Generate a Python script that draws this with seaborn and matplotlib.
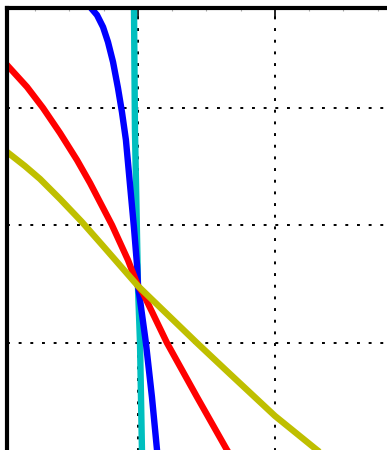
import numpy as np
import matplotlib
matplotlib.use("Agg")
from matplotlib import pyplot as plt
from matplotlib.ticker import MultipleLocator, AutoMinorLocator
import seaborn as sns

# values (x: one unit per vertical grid step, y: one unit per horizontal grid step)
red_x = [-1.00, -0.956, -0.810, -0.693, -0.569, -0.445, -0.350, -0.190, -0.073, 0.0,
         0.036, 0.212, 0.431, 0.650, 0.75]
red_y = [2.42, 2.366, 2.179, 2.000, 1.787, 1.557, 1.362, 1.004, 0.706, 0.485,
         0.426, 0.000, -0.460, -0.911, -1.07]

yel_x = [-1.00, -0.956, -0.825, -0.715, -0.569, -0.409, -0.255, 0.0, 0.431, 0.672,
         1.000, 1.307, 1.45]
yel_y = [1.66, 1.626, 1.506, 1.396, 1.226, 1.030, 0.826, 0.485, 0.000, -0.264,
         -0.621, -0.911, -1.03]

blue_x = [-0.40, -0.343, -0.299, -0.255, -0.219, -0.182, -0.146, -0.117, -0.088, -0.058,
          -0.029, -0.007, 0.0, 0.015, 0.058, 0.102, 0.139, 0.16]
blue_y = [2.92, 2.851, 2.791, 2.689, 2.562, 2.391, 2.170, 1.966, 1.728, 1.345,
          0.979, 0.664, 0.485, 0.366, 0.000, -0.460, -0.911, -1.15]

cyan_x = [-0.031, -0.029, -0.022, 0.0, 0.015, 0.029, 0.032]
cyan_y = [3.00, 2.851, 1.813, 0.485, 0.000, -0.911, -1.10]

W, H = 387, 450
sns.set_style("white")
fig = plt.figure(figsize=(W / 100, H / 100), dpi=100)

# axes anchored at the top-left; right and bottom run off the canvas
xlo, xhi = -0.956, 3.0
ylo, yhi = -2.0, 2.851
px_x, px_y = 137.0, 117.5
ax_w = (xhi - xlo) * px_x
ax_h = (yhi - ylo) * px_y
left = 7.0
top = 8.0
ax = fig.add_axes([left / W, (H - top - ax_h) / H, ax_w / W, ax_h / H])

lw = 4.6
sns.lineplot(x=cyan_x, y=cyan_y, color=(0, 0.75, 0.75), lw=lw, sort=False, ax=ax)
sns.lineplot(x=blue_x, y=blue_y, color=(0, 0, 1), lw=lw, sort=False, ax=ax)
sns.lineplot(x=red_x, y=red_y, color=(1, 0, 0), lw=lw, sort=False, ax=ax)
sns.lineplot(x=yel_x, y=yel_y, color=(0.75, 0.75, 0), lw=lw, sort=False, ax=ax)

ax.set_xlim(xlo, xhi)
ax.set_ylim(ylo, yhi)
ax.xaxis.set_major_locator(MultipleLocator(1))
ax.yaxis.set_major_locator(MultipleLocator(1))
ax.xaxis.set_minor_locator(AutoMinorLocator(4))
ax.yaxis.set_minor_locator(AutoMinorLocator(4))
ax.tick_params(which="both", direction="in", top=True, right=True,
               labelleft=False, labelbottom=False)
ax.tick_params(which="major", length=7, width=1.2, color="black")
ax.tick_params(which="minor", length=2, width=0.8, color="#aaaaaa")
ax.grid(True, which="major", color="black", lw=1.4, linestyle=(0, (1.5, 4.5)))

for s in ax.spines.values():
    s.set_linewidth(3.0)
    s.set_color("black")

fig.savefig("out.png", dpi=100)
